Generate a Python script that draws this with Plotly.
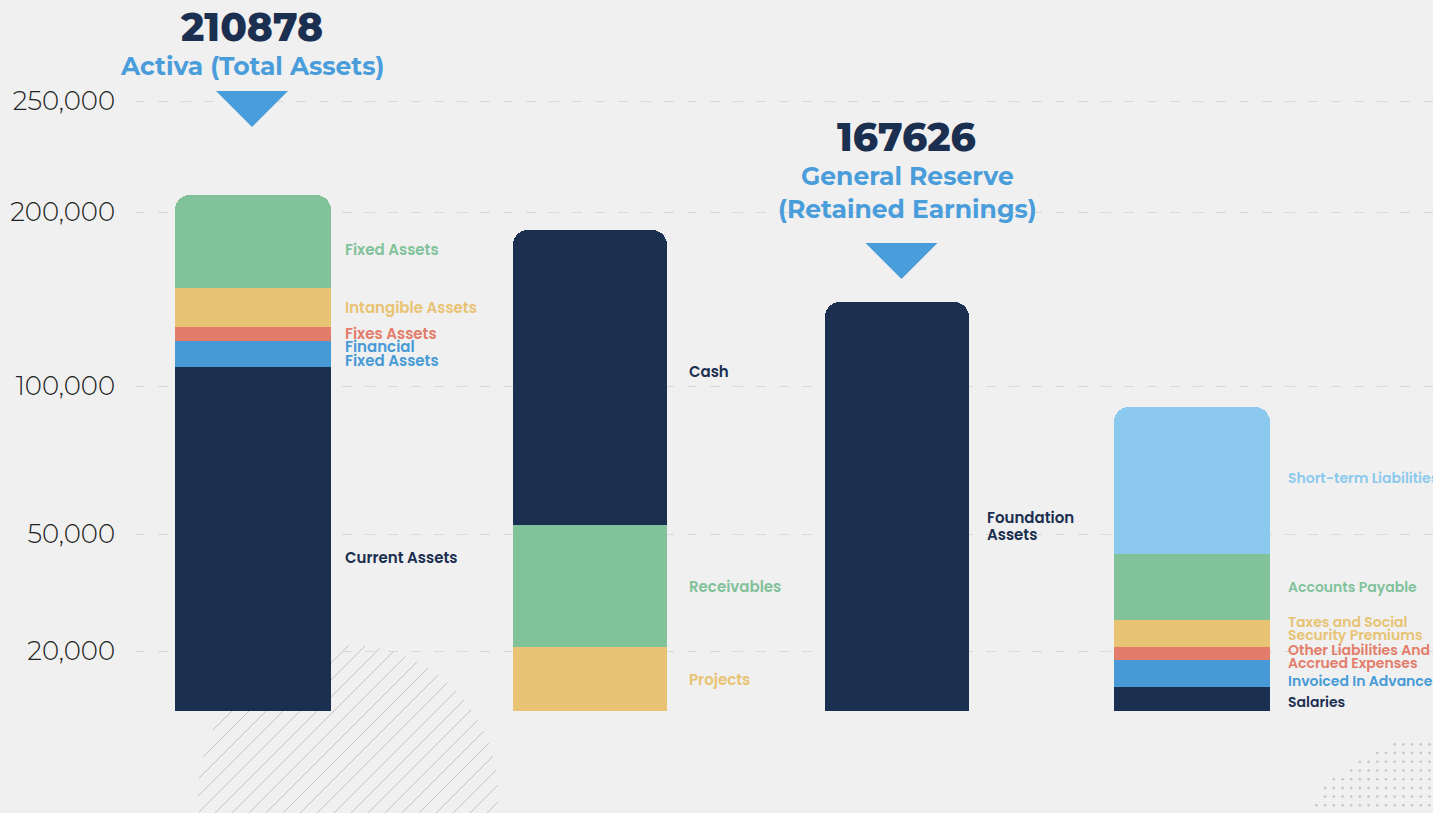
import numpy as np
import plotly.graph_objects as go

# ---------------- data ----------------
CATEGORIES = ["Total Assets", "Current Assets", "Equity", "Short-term Liabilities"]

ASSETS_LABELS = ["Current Assets", "Financial<br>Fixed Assets", "Fixes Assets",
                 "Intangible Assets", "Fixed Assets"]
ASSETS_VALUES = [111000, 14900, 8000, 22400, 51400]

CURRENT_LABELS = ["Projects", "Receivables", "Cash"]
CURRENT_VALUES = [21000, 32000, 136600]

EQUITY_LABELS = ["Foundation<br>Assets"]
EQUITY_VALUES = [148300]

LIAB_LABELS = ["Salaries", "Invoiced In Advance", "Other Liabilities And<br>Accrued Expenses",
               "Taxes and Social<br>Security Premiums", "Accounts Payable", "Short-term Liabilities"]
LIAB_VALUES = [8000, 9000, 4000, 7000, 17000, 47900]

HEADLINE_VALUES = [210878, 167626]
HEADLINE_TITLES = ["Activa (Total Assets)", "General Reserve<br>(Retained Earnings)"]

TICK_VALUES = [20000, 50000, 100000, 200000, 250000]
TICK_TEXT = ["20,000", "50,000", "100,000", "200,000", "250,000"]

# ---------------- styles / layout ----------------
W, H = 1433, 813
PLOT_LEFT = 135
BASELINE = 711          # pixel row of the bar baseline
SLOT_PX = 313           # pixel distance between category slots
NAVY, GREEN, YELLOW, RED, BLUE, LIGHT = "#1b2f51", "#82c29b", "#e8c373", "#e47c6b", "#469bd7", "#8bcaee"
TITLE_BLUE = "#4a9ddb"
BG = "#f0f0f0"

# per-bar cosmetic layout: width (category units), horizontal nudge (px), label gap (px), line gap (px), font size
BAR_WIDTHS = [0.50, 0.495, 0.463, 0.50]
BAR_NUDGE_PX = [0, 24, 18, 0]
LABEL_XSHIFT = [12, 20, 16, 16]
LINE_GAP = [14, 14, 17, 12.5]
LABEL_SIZE = [15, 15, 15, 14]

# the infographic uses a non-uniform (piecewise linear) value scale
SCALE_VALUES = [0, 20000, 50000, 100000, 200000, 250000]
SCALE_POS = [0, 60, 177, 325, 499, 610]


def to_axis(v):
    return np.interp(v, SCALE_VALUES, SCALE_POS)


groups = [
    (ASSETS_LABELS, ASSETS_VALUES, [NAVY, BLUE, RED, YELLOW, GREEN], [-19, 0, 0, 0, -8]),
    (CURRENT_LABELS, CURRENT_VALUES, [YELLOW, GREEN, NAVY], [0, 0, 6]),
    (EQUITY_LABELS, EQUITY_VALUES, [NAVY], [-20]),
    (LIAB_LABELS, LIAB_VALUES, [NAVY, BLUE, RED, YELLOW, GREEN, LIGHT], [-3, -7, -3, 5, 0, 2]),
]

fig = go.Figure()
annotations = []

for gi, (labels, values, colors, nudges) in enumerate(groups):
    vals = np.array(values, dtype=float)
    cum = np.cumsum(vals)
    low = cum - vals
    wdt = BAR_WIDTHS[gi]
    shift_units = BAR_NUDGE_PX[gi] / SLOT_PX
    for k in range(len(vals)):
        top_a, low_a = to_axis(cum[k]), to_axis(low[k])
        fig.add_bar(
            x=[CATEGORIES[gi]], y=[top_a - low_a], width=wdt, offset=-wdt / 2 + shift_units,
            marker=dict(color=colors[k], line=dict(width=0)),
            name=labels[k].replace("<br>", " "),
            customdata=[values[k]],
            hovertemplate="%{fullData.name}: %{customdata:,}<extra></extra>",
            showlegend=False,
        )
        lines = labels[k].split("<br>")
        n = len(lines)
        for j, line in enumerate(lines):
            annotations.append(dict(
                x=gi + wdt / 2 + shift_units, xref="x",
                y=(top_a + low_a) / 2 + nudges[k] + ((n - 1) / 2 - j) * LINE_GAP[gi], yref="y",
                text=line, showarrow=False, xanchor="left", yanchor="middle", align="left",
                xshift=LABEL_XSHIFT[gi],
                font=dict(family="Poppins, Open Sans, sans-serif", size=LABEL_SIZE[gi],
                          weight=600, color=colors[k]),
            ))

# headline blocks: (category index, number y px, title y px, triangle top px, x nudge px)
HEAD_POS = [(0, 27, 66, 91, -2), (2, 137, 192, 243, 9)]
for (ci, ny, ty, tri, xs), val, title in zip(HEAD_POS, HEADLINE_VALUES, HEADLINE_TITLES):
    xs_tot = xs + BAR_NUDGE_PX[ci]
    annotations.append(dict(x=ci, xref="x", xshift=xs_tot, y=1 - ny / H, yref="paper", text=str(val),
                            showarrow=False, xanchor="center", yanchor="middle",
                            font=dict(family="Montserrat, Open Sans, sans-serif", size=39,
                                      weight=800, color=NAVY)))
    annotations.append(dict(x=ci, xref="x", xshift=xs_tot + 1, y=1 - ty / H, yref="paper", text=title,
                            showarrow=False, xanchor="center", yanchor="middle",
                            font=dict(family="Montserrat, Open Sans, sans-serif", size=25,
                                      weight=700, color=TITLE_BLUE)))

shapes = []
for (ci, ny, ty, tri, xs) in HEAD_POS:
    shapes.append(dict(type="path", xref="x", xsizemode="pixel",
                       xanchor=ci + (BAR_NUDGE_PX[ci] + xs / 2) / SLOT_PX,
                       yref="paper", ysizemode="pixel", yanchor=1 - tri / H,
                       path="M -36,0 L 36,0 L 0,-36 Z",
                       fillcolor=TITLE_BLUE, line=dict(width=0), layer="above"))

# hatched circle decoration (bottom left)
cx, cy, r = 348, 795, 150
for d in np.arange(-200, 201, 17):
    dist = abs(d) / np.sqrt(2)
    if dist >= r:
        continue
    half = np.sqrt(r * r - dist * dist)
    mx, my = cx + d / 2, cy + d / 2
    ux, uy = 1 / np.sqrt(2), -1 / np.sqrt(2)
    x0, y0 = mx - half * ux, my - half * uy
    x1, y1 = mx + half * ux, my + half * uy
    shapes.append(dict(type="line", xref="paper", yref="paper",
                       x0=x0 / W, y0=1 - y0 / H, x1=x1 / W, y1=1 - y1 / H,
                       line=dict(color="#c4c4c4", width=1), layer="below"))

# dotted decoration (bottom right)
dx, dy = [], []
for gx in np.arange(1299, W, 8.7):
    for gy in np.arange(727, H, 8.7):
        if (gx - 1450) ** 2 + (gy - 910) ** 2 <= 175 ** 2:
            dx.append(gx)
            dy.append(gy)
fig.add_scatter(x=dx, y=dy, xaxis="x2", yaxis="y2", mode="markers",
                marker=dict(size=2.6, color="#c6c6c6"), hoverinfo="skip", showlegend=False)

x_start = -(253 - PLOT_LEFT) / SLOT_PX
fig.update_layout(
    width=W, height=H,
    margin=dict(l=0, r=0, t=0, b=0),
    paper_bgcolor=BG, plot_bgcolor="rgba(0,0,0,0)",
    barmode="stack", barcornerradius=15, bargap=0,
    annotations=annotations, shapes=shapes,
    xaxis=dict(type="category", categoryarray=CATEGORIES, domain=[PLOT_LEFT / W, 1],
               range=[x_start, x_start + (W - PLOT_LEFT) / SLOT_PX], visible=False, fixedrange=True),
    yaxis=dict(range=[-(H - BASELINE), BASELINE], tickvals=[to_axis(v) for v in TICK_VALUES],
               ticktext=TICK_TEXT, showgrid=True, gridcolor="#d9d9d9", griddash="10px,13px",
               gridwidth=1, zeroline=False, showline=False, ticks="", ticklabelstandoff=19,
               tickfont=dict(family="Montserrat, Lato, sans-serif", size=26, weight=300,
                             color="#222222"), fixedrange=True),
    xaxis2=dict(overlaying="x", range=[PLOT_LEFT, W], visible=False, fixedrange=True),
    yaxis2=dict(overlaying="y", range=[H, 0], visible=False, fixedrange=True),
)

fig.write_html("out.html", config={"displayModeBar": False},
               post_script="document.body.style.margin='0';document.body.style.overflow='hidden';")
